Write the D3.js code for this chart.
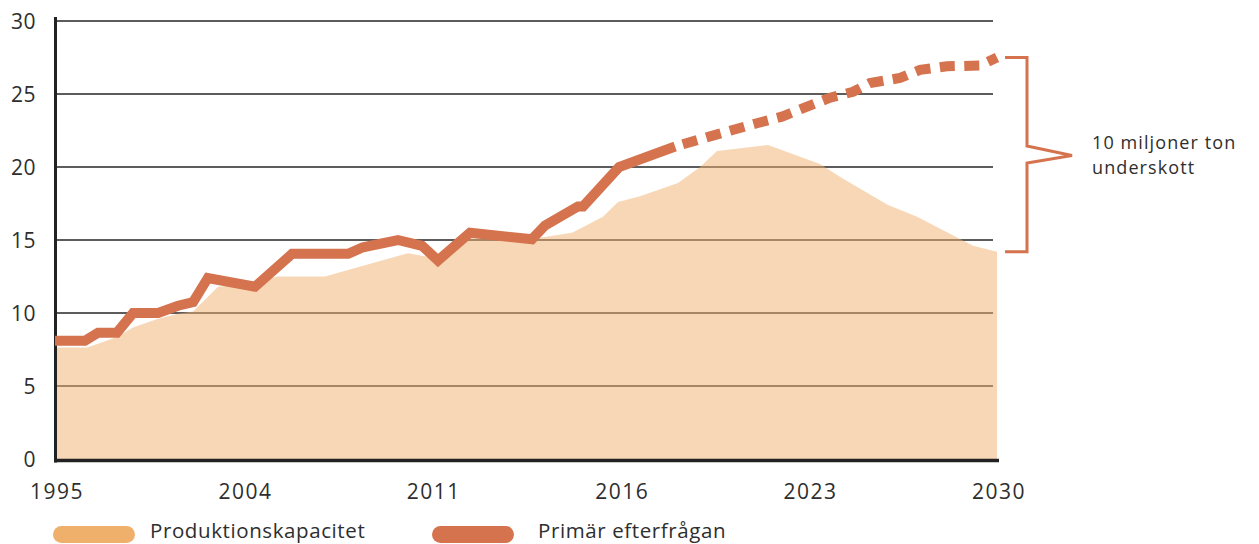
<!DOCTYPE html>
<html><head><meta charset="utf-8">
<script src="https://cdn.jsdelivr.net/npm/d3@7"></script>
<style>
body{margin:0;background:#fff}
text{font-family:"Open Sans",sans-serif;fill:#2e2e2e}
</style>
</head><body>
<svg id="c" width="1259" height="544"></svg>
<script>
// Axis ticks (x positions are evenly spaced category steps)
const xTickPos = [0, 7, 14, 21, 28, 35];
const xTickLabels = ["1995", "2004", "2011", "2016", "2023", "2030"];
const yTicks = [0, 5, 10, 15, 20, 25, 30];

// Produktionskapacitet (area)
const capacityPos = [0, 1.19, 1.6, 2.3, 2.9, 3.83, 4.57, 5.13, 6.06, 7.43, 8.25, 10.03, 13.12, 13.67, 14.23, 15.42, 18.02, 19.21, 20.36, 20.92, 21.74, 23.15, 23.97, 24.6, 26.49, 28.42, 29.28, 30.95, 32.03, 34.11, 35];
const capacityVal = [7.64, 7.64, 7.9, 8.35, 9.0, 9.6, 9.95, 10.1, 11.8, 12.0, 12.5, 12.5, 14.1, 13.9, 13.8, 15.1, 15.15, 15.5, 16.6, 17.6, 18.0, 18.9, 20.0, 21.1, 21.5, 20.2, 19.2, 17.4, 16.6, 14.6, 14.2];

// Primär efterfrågan (historical, solid)
const demandPos = [0, 1.11, 1.6, 2.3, 2.9, 3.83, 4.57, 5.13, 5.68, 7.43, 8.81, 10.89, 11.44, 12.74, 13.64, 14.23, 15.42, 17.72, 18.21, 19.43, 19.62, 20.96, 23.04];
const demandVal = [8.1, 8.1, 8.65, 8.65, 10.0, 10.0, 10.5, 10.75, 12.4, 11.8, 14.05, 14.05, 14.5, 15.0, 14.6, 13.6, 15.5, 15.05, 16.0, 17.3, 17.3, 20.0, 21.4];

// Primär efterfrågan (forecast, dashed)
const forecastPos = [23.04, 24.34, 26.08, 27.01, 28.8, 29.65, 30.28, 31.4, 32.14, 33.14, 34.37, 35];
const forecastVal = [21.4, 22.1, 23.0, 23.45, 24.75, 25.15, 25.75, 26.1, 26.65, 26.9, 26.95, 27.5];

const seriesNames = ["Produktionskapacitet", "Primär efterfrågan"];
const seriesColors = ["#efb06b", "#d5734f"];
const annotationLines = ["10 miljoner ton", "underskott"];

const svg = d3.select("#c");
const x = d3.scaleLinear().domain([0, 35]).range([55, 997]);
const y = d3.scaleLinear().domain([0, 30]).range([459, 21]);

const zip = (p, v) => p.map((d, i) => ({p: d, v: v[i]}));
const capacity = zip(capacityPos, capacityVal);
const demand = zip(demandPos, demandVal);
const forecast = zip(forecastPos, forecastVal);

// gridlines
svg.append("g").selectAll("line").data(yTicks.filter(d => d > 0)).join("line")
  .attr("x1", 55).attr("x2", 993)
  .attr("y1", d => y(d)).attr("y2", d => y(d))
  .attr("stroke", "#262626").attr("stroke-width", 1.6);

// area
svg.append("path").datum(capacity)
  .attr("d", d3.area().x(d => x(d.p)).y0(y(0)).y1(d => y(d.v)))
  .attr("fill", seriesColors[0]).attr("fill-opacity", 0.5);

// axes
svg.append("line").attr("x1", 55.5).attr("x2", 55.5).attr("y1", 17).attr("y2", 462.5)
  .attr("stroke", "#222").attr("stroke-width", 3);
svg.append("line").attr("x1", 54).attr("x2", 999).attr("y1", y(0) + 1.5).attr("y2", y(0) + 1.5)
  .attr("stroke", "#222").attr("stroke-width", 3.5);

// y tick labels
svg.append("g").selectAll("text").data(yTicks).join("text")
  .attr("x", 36).attr("y", d => y(d)).attr("dy", "0.36em")
  .attr("text-anchor", "end").attr("font-size", 21).attr("letter-spacing", 0.5).text(d => d);

// x tick labels
svg.append("g").selectAll("text").data(xTickPos).join("text")
  .attr("x", d => x(d) + 2).attr("y", 499)
  .attr("text-anchor", "middle").attr("font-size", 21).attr("letter-spacing", 1.5)
  .text((d, i) => xTickLabels[i]);

// demand line
const line = d3.line().x(d => x(d.p)).y(d => y(d.v));
svg.append("path").datum(demand).attr("d", line)
  .attr("fill", "none").attr("stroke", seriesColors[1]).attr("stroke-width", 10)
  .attr("stroke-linejoin", "miter");
svg.append("path").datum(forecast).attr("d", line)
  .attr("fill", "none").attr("stroke", seriesColors[1]).attr("stroke-width", 10)
  .attr("stroke-dasharray", "15 9.5").attr("stroke-dashoffset", 16.5)
  .attr("stroke-linejoin", "miter");

// bracket annotation
const yTop = y(forecastVal[forecastVal.length - 1]);
const yBot = y(capacityVal[capacityVal.length - 1]);
const mid = (yTop + yBot) / 2;
svg.append("path")
  .attr("d", `M1005,${yTop}H1027V${mid - 8.5}L1072,${mid + 1}L1027,${mid + 8.5}V${yBot}H1005`)
  .attr("fill", "none").attr("stroke", seriesColors[1]).attr("stroke-width", 3)
  .attr("stroke-linejoin", "miter");
svg.append("g").selectAll("text").data(annotationLines).join("text")
  .attr("x", 1092).attr("y", (d, i) => 149 + i * 25)
  .attr("font-size", 18).attr("letter-spacing", 1.1).text(d => d);

// legend
const legX = [53, 432], textX = [150, 538];
seriesNames.forEach((n, i) => {
  svg.append("rect").attr("x", legX[i]).attr("y", 526).attr("width", 82).attr("height", 17)
    .attr("rx", 8.5).attr("fill", seriesColors[i]);
  svg.append("text").attr("x", textX[i]).attr("y", 538).attr("font-size", 20.5)
    .attr("letter-spacing", 0.6).text(n);
});
</script>
</body></html>
